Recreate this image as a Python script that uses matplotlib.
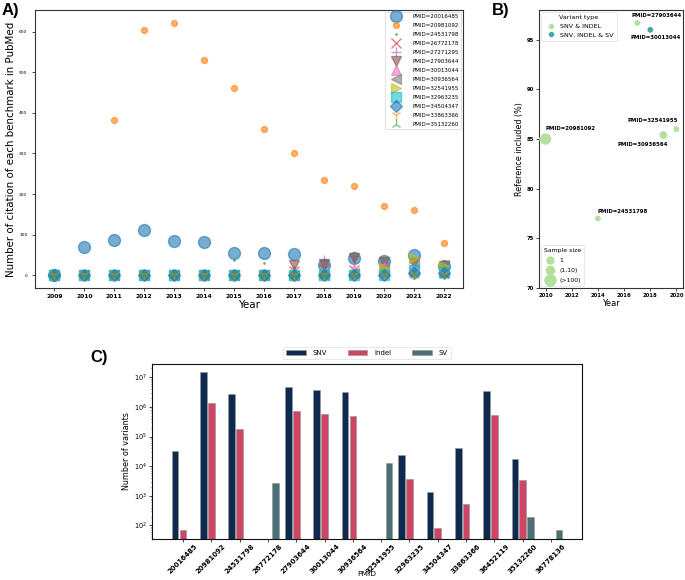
import numpy as np
import matplotlib
matplotlib.use("Agg")
import matplotlib.pyplot as plt
from matplotlib.lines import Line2D

# ---------------- Panel A data ----------------
years_a = [2009, 2010, 2011, 2012, 2013, 2014, 2015, 2016, 2017, 2018, 2019, 2020, 2021, 2022]
pmids_a = ["20016485", "20981092", "24531798", "26772178", "27271295", "27903644",
           "30013044", "30936564", "32541955", "32963235", "34504347", "33863366", "35132260"]
cit_20016485 = [0, 71, 87, 111, 84, 83, 56, 56, 53, 25, 43, 36, 51, 22]
cit_20981092 = [0, 0, 382, 604, 622, 529, 460, 360, 300, 235, 220, 171, 162, 80]
cit_24531798 = [0, 0, 0, 0, 0, 0, 39, 30, 20, 15, 10, 10, 8, 5]
cit_26772178 = [0, 0, 0, 0, 0, 0, 0, 0, 10, 15, 12, 10, 8, 5]
cit_27271295 = [0, 0, 0, 0, 0, 0, 0, 0, 5, 38, 48, 30, 25, 15]
cit_27903644 = [0, 0, 0, 0, 0, 0, 0, 0, 25, 28, 42, 34, 30, 22]
cit_30013044 = [0, 0, 0, 0, 0, 0, 0, 0, 0, 5, 15, 20, 20, 10]
cit_30936564 = [0, 0, 0, 0, 0, 0, 0, 0, 0, 0, 5, 15, 33, 25]
cit_32541955 = [0, 0, 0, 0, 0, 0, 0, 0, 0, 0, 0, 18, 42, 22]
cit_32963235 = [0, 0, 0, 0, 0, 0, 0, 0, 0, 0, 0, 0, 12, 8]
cit_34504347 = [0, 0, 0, 0, 0, 0, 0, 0, 0, 0, 0, 0, 5, 5]
cit_33863366 = [0, 0, 0, 0, 0, 0, 0, 0, 0, 0, 0, 0, 3, 3]
cit_35132260 = [0, 0, 0, 0, 0, 0, 0, 0, 0, 0, 0, 0, 0, 2]
citations_a = [cit_20016485, cit_20981092, cit_24531798, cit_26772178, cit_27271295,
               cit_27903644, cit_30013044, cit_30936564, cit_32541955, cit_32963235,
               cit_34504347, cit_33863366, cit_35132260]
markers_a = ['o', 'o', '.', 'x', '+', 'v', '^', '<', '>', 's', 'D', '1', '2']
msizes_a = [8.6, 4.3, 2.0, 7.0, 7.0, 7.5, 7.5, 7.5, 7.5, 7.2, 6.0, 7.5, 7.5]

# ---------------- Panel B data ----------------
pmids_b = ["20981092", "24531798", "27903644", "30013044", "30936564", "32541955"]
years_b = [2010, 2014, 2017, 2018, 2019, 2020]
ref_incl_b = [85.0, 77.0, 96.7, 96.0, 85.4, 86.0]
vtype_b = ["SNV & INDEL", "SNV & INDEL", "SNV & INDEL", "SNV, INDEL & SV", "SNV & INDEL", "SNV & INDEL"]
ssize_b = ["(>100)", "1", "1", "1", "(1,10)", "1"]
vtype_levels = ["SNV & INDEL", "SNV, INDEL & SV"]
ssize_levels = ["1", "(1,10)", "(>100)"]

# ---------------- Panel C data ----------------
pmids_c = ["20016485", "20981092", "24531798", "26772178", "27903644", "30013044", "30936564",
           "32541955", "32963235", "34504347", "33863366", "36452119", "35132260", "36778136"]
nan = np.nan
snv_c = [3.3e4, 1.5e7, 2.8e6, nan, 4.7e6, 3.7e6, 3.1e6, nan, 2.3e4, 1.4e3, 4.2e4, 3.5e6, 1.7e4, nan]
indel_c = [68, 1.35e6, 1.8e5, nan, 7.0e5, 5.9e5, 5.0e5, nan, 3.7e3, 80, 550, 5.4e5, 3.5e3, nan]
sv_c = [nan, nan, nan, 2.8e3, nan, nan, nan, 1.3e4, nan, nan, nan, nan, 200, 69]

# ---------------- Figure ----------------
fig = plt.figure(figsize=(6.85, 5.8), dpi=100)
W, H = 685, 580

def px_axes(l, t, r, b):
    return fig.add_axes([l / W, 1 - b / H, (r - l) / W, (b - t) / H])

# Panel A
axA = px_axes(35, 10, 463, 288)
for pm, vals, mk, ms in zip(pmids_a, citations_a, markers_a, msizes_a):
    axA.plot(years_a, vals, linestyle='none', marker=mk, markersize=ms, alpha=0.6,
             label=f"PMID={pm}")
axA.set_xticks(years_a)
axA.set_xticklabels([str(y) for y in years_a], fontsize=4.3, fontweight='bold')
axA.tick_params(axis='y', labelsize=3.2, length=2, width=0.5)
axA.tick_params(axis='x', length=2, width=0.5, pad=2)
axA.set_xlabel("Year", fontsize=7.5, labelpad=1)
axA.set_ylabel("Number of citation of each benchmark in PubMed", fontsize=7.4, labelpad=2)
legA = axA.legend(loc='upper right', fontsize=4, handlelength=3.0, handletextpad=1.6,
                  labelspacing=0.72, borderaxespad=0.3, framealpha=1.0, borderpad=0.4)
legA.get_frame().set_linewidth(0.4)
for s in axA.spines.values():
    s.set_linewidth(0.8)
    s.set_color('#333333')

# Panel B
axB = px_axes(539, 10, 683, 288)
col_map = {"SNV & INDEL": "#b3e09c", "SNV, INDEL & SV": "#46a7aa"}
size_map = {"1": 20, "(1,10)": 34, "(>100)": 72}
axB.scatter(years_b, ref_incl_b, c=[col_map[v] for v in vtype_b],
            s=[size_map[s] for s in ssize_b], edgecolors='white', linewidths=0.3, zorder=3)
axB.set_ylim(70, 98)
axB.set_xlim(2009.5, 2020.5)
axB.set_xticks([2010, 2012, 2014, 2016, 2018, 2020])
axB.set_yticks([70, 75, 80, 85, 90, 95])
axB.tick_params(labelsize=3.8, length=2, width=0.5, pad=1.5)
for lab in axB.get_xticklabels() + axB.get_yticklabels():
    lab.set_fontweight('bold')
axB.set_xlabel("Year", fontsize=6, labelpad=0.5)
axB.set_ylabel("Reference included (%)", fontsize=5.8, labelpad=2)
offsets_b = {"20981092": (0, 11), "24531798": (0, 7), "27903644": (-6, 7),
             "30013044": (-20, -8), "32541955": (-49, 9), "30936564": (-46, -9)}
for pm, x, y in zip(pmids_b, years_b, ref_incl_b):
    axB.annotate(f"PMID={pm}", xy=(x, y), xytext=offsets_b[pm], textcoords='offset pixels',
                 fontsize=3.9, fontweight='bold', ha='left', va='center', annotation_clip=False)
h1 = [Line2D([], [], linestyle='none', marker='o', markersize=4.2, color=col_map[v],
             markeredgecolor='white', markeredgewidth=0.3) for v in vtype_levels]
leg1 = axB.legend(h1, vtype_levels, title="Variant type", loc='upper left', fontsize=4.6,
                  title_fontsize=4.6, borderaxespad=0.3, handletextpad=0.5, labelspacing=0.5,
                  borderpad=0.5)
leg1.get_frame().set_linewidth(0.4)
axB.add_artist(leg1)
h2 = [Line2D([], [], linestyle='none', marker='o', markersize=ms, color="#b3e09c")
      for ms in (5.0, 6.0, 8.0)]
leg2 = axB.legend(h2, ssize_levels, title="Sample size", loc='lower left', fontsize=4.4,
                  title_fontsize=4.4, borderaxespad=0.3, handletextpad=0.6, labelspacing=0.8,
                  borderpad=0.5)
leg2.get_frame().set_linewidth(0.4)
for s in axB.spines.values():
    s.set_linewidth(0.8)
    s.set_color('#333333')

# Panel C
axC = px_axes(152, 364, 582, 539)
x = np.arange(len(pmids_c))
off, bw = 0.28, 0.235
axC.bar(x - off, snv_c, width=bw, color="#0e2a4f", edgecolor='#9a9a9a', linewidth=0.5, label="SNV")
axC.bar(x, indel_c, width=bw, color="#cf4566", edgecolor='#9a9a9a', linewidth=0.5, label="Indel")
axC.bar(x + off, sv_c, width=bw, color="#4a6f77", edgecolor='#9a9a9a', linewidth=0.5, label="SV")
axC.set_yscale('log')
axC.set_ylim(35, 2.8e7)
axC.set_xlim(-1.09, 14.09)
axC.set_xticks(x)
axC.set_xticklabels(pmids_c, rotation=45, fontsize=5, fontweight='bold')
axC.tick_params(axis='y', labelsize=4.8, length=2, width=0.5, pad=1.5)
axC.tick_params(axis='y', which='minor', length=1, width=0.4)
axC.tick_params(axis='x', length=2, width=0.5, pad=1)
axC.set_xlabel("PMID", fontsize=5.4)
axC.xaxis.set_label_coords(0.5, -0.185)
axC.set_ylabel("Number of variants", fontsize=5.8, labelpad=2)
legC = axC.legend(loc='lower center', bbox_to_anchor=(0.5, 1.01), ncol=3, fontsize=5,
                  handlelength=2.8, columnspacing=3.0, borderpad=0.4, handletextpad=1.0)
legC.get_frame().set_linewidth(0.4)
for s in axC.spines.values():
    s.set_linewidth(0.8)
    s.set_color('#111111')

# Panel labels
fig.text(2 / W, 1 - 3 / H, "A)", fontsize=12, fontweight='bold', family='Liberation Sans', va='top', ha='left')
fig.text(492 / W, 1 - 3 / H, "B)", fontsize=12, fontweight='bold', family='Liberation Sans', va='top', ha='left')
fig.text(90 / W, 1 - 350 / H, "C)", fontsize=12, fontweight='bold', family='Liberation Sans', va='top', ha='left')

fig.savefig("out.png", dpi=100)
